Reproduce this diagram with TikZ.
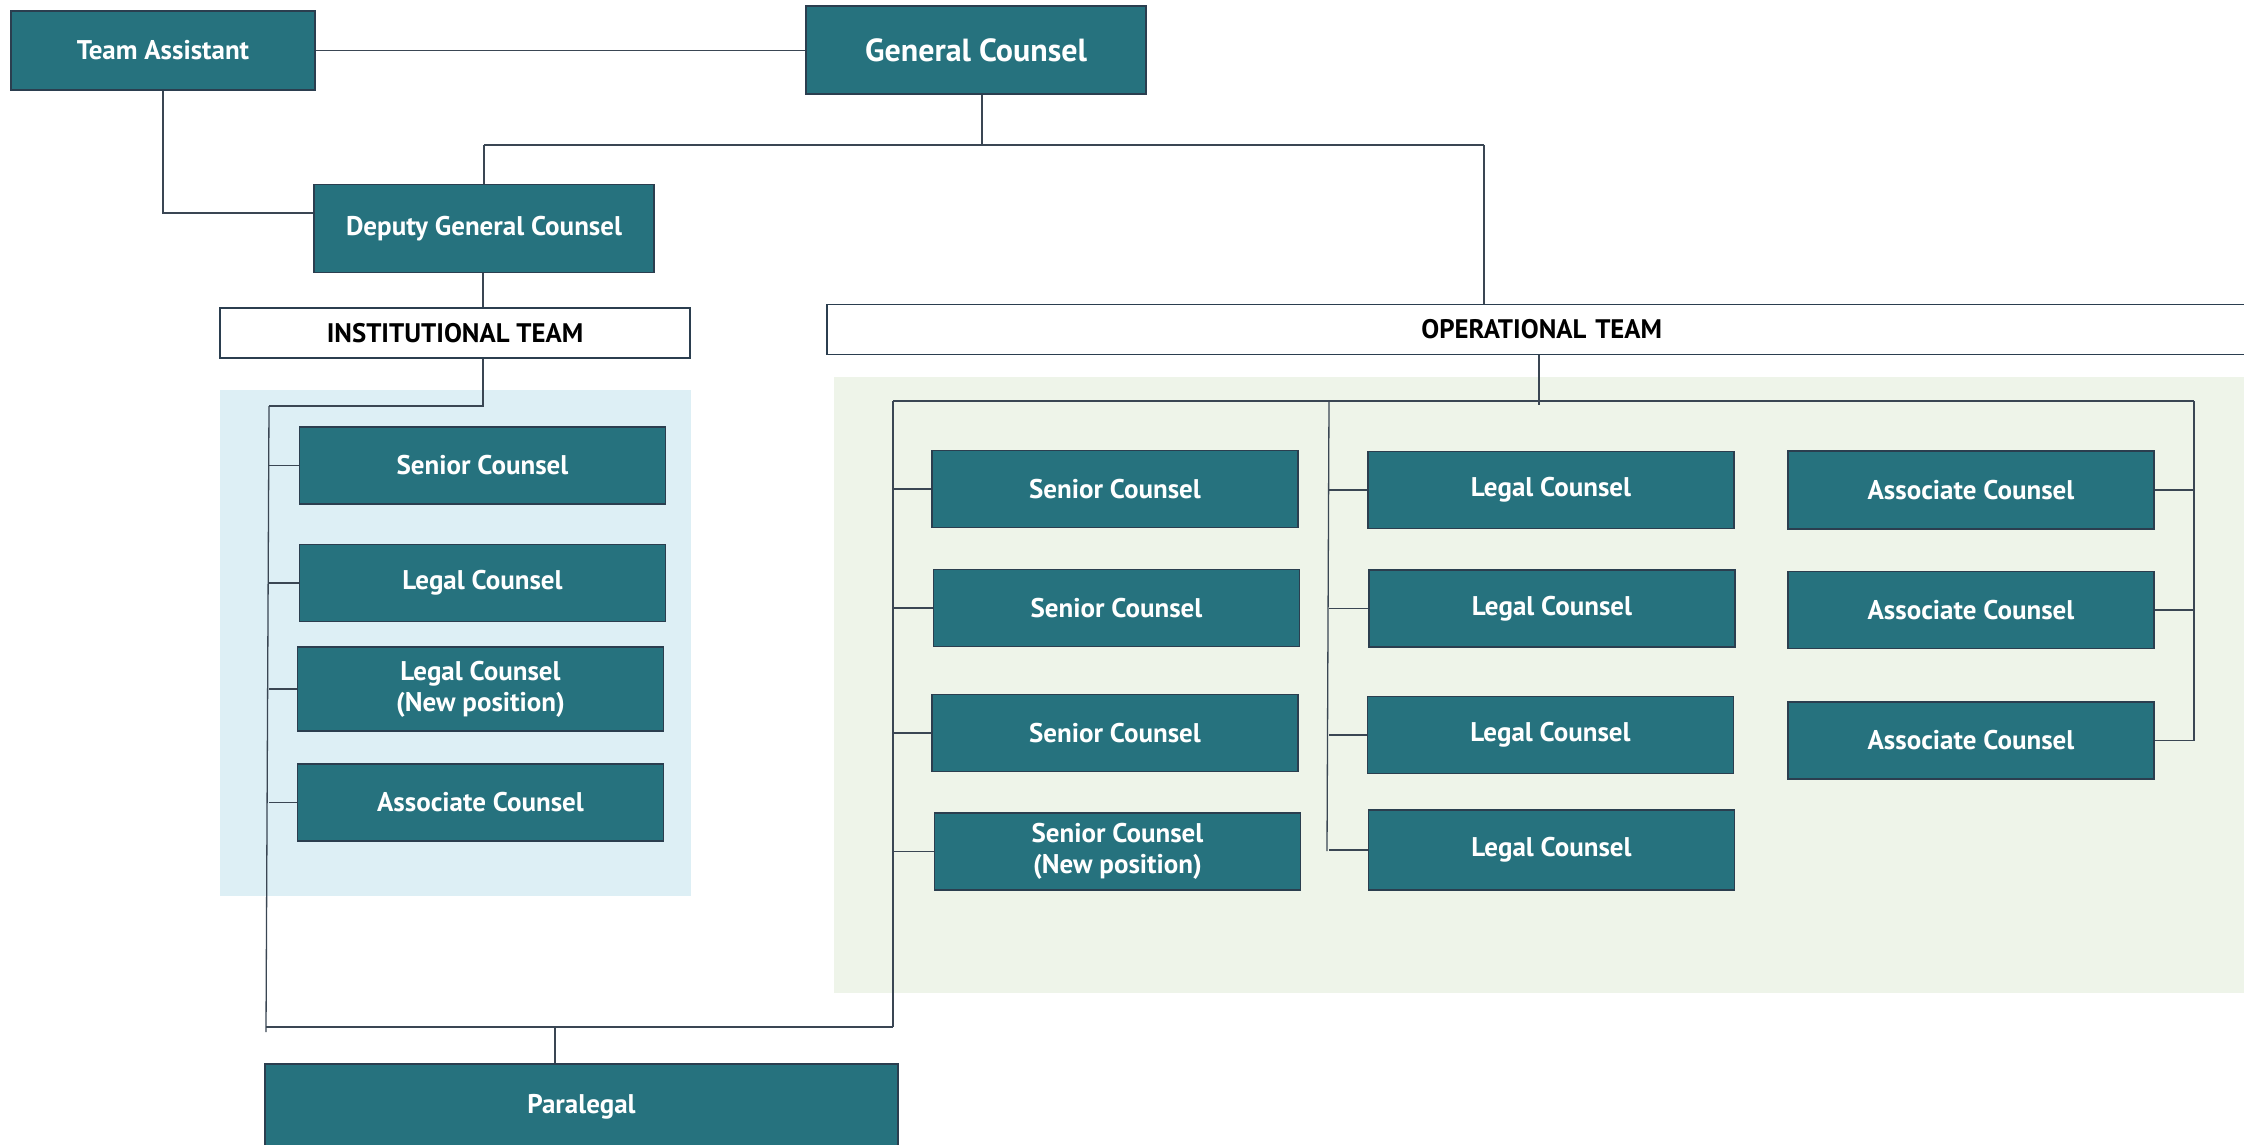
\documentclass[tikz,border=0pt]{standalone}
\usepackage{fontspec}
\setmainfont{PT Sans}
\definecolor{tealbox}{HTML}{26727E}
\definecolor{bord}{HTML}{2B3E4F}
\definecolor{ln}{HTML}{3A4653}
\definecolor{bluebg}{HTML}{DDEFF5}
\definecolor{greenbg}{HTML}{EEF4E9}
\begin{document}
\begin{tikzpicture}[x=1pt,y=-1pt,
  box/.style={draw=bord, line width=1.5pt, fill=tealbox, text=white,
    font=\bfseries\fontsize{27}{31}\selectfont, align=center, inner sep=0pt,
    minimum width=366pt, minimum height=77pt},
  hdr/.style={draw=bord, line width=1.5pt, fill=white, text=black,
    font=\bfseries\fontsize{26.8}{30}\selectfont, inner sep=0pt, minimum height=50pt},
  conn/.style={draw=ln, line width=1.3pt}]
\path[use as bounding box] (0,0) rectangle (2244,1145);
\clip (0,0) rectangle (2244,1145);
\fill[white] (0,0) rectangle (2244,1145);
% backgrounds
\fill[bluebg] (220,390) rectangle (691,896);
\fill[greenbg] (834,377) rectangle (2260,993);

% top nodes
\node[box, minimum width=304pt, minimum height=79pt] (TA) at (163,50.5) {Team Assistant};
\node[box, minimum width=340pt, minimum height=88pt, font=\bfseries\fontsize{32}{36}\selectfont] (GC) at (976,50) {General Counsel};
\node[box, minimum width=340pt, minimum height=88pt] (DGC) at (484,228.5) {Deputy General Counsel};
\node[hdr, minimum width=470pt] (IT) at (455,333) {INSTITUTIONAL TEAM};
\node[hdr, minimum width=1430pt, anchor=west, text width=1424pt, align=left] (OT) at (826,329.5) {\hspace*{712pt}\llap{\makebox[0pt][c]{OPERATIONAL TEAM}}};

% institutional team
\node[box] (iSC) at (482.5,465.5) {Senior Counsel};
\node[box] (iLC) at (482.5,583) {Legal Counsel};
\node[box, minimum height=84pt] (iLCN) at (480.5,689) {Legal Counsel\\(New position)};
\node[box, minimum height=77pt] (iAC) at (480.5,802.5) {Associate Counsel};

% operational team, column 1
\node[box] (oSC1) at (1115,489) {Senior Counsel};
\node[box] (oSC2) at (1116.5,608) {Senior Counsel};
\node[box] (oSC3) at (1115,733) {Senior Counsel};
\node[box] (oSCN) at (1117.5,851.5) {Senior Counsel\\(New position)};
% column 2
\node[box] (oLC1) at (1551,490) {Legal Counsel};
\node[box] (oLC2) at (1552,608.5) {Legal Counsel};
\node[box] (oLC3) at (1550.5,735) {Legal Counsel};
\node[box, minimum height=80pt] (oLC4) at (1551.5,850) {Legal Counsel};
% column 3
\node[box, minimum height=78pt] (oAC1) at (1971,490) {Associate Counsel};
\node[box] (oAC2) at (1971,610) {Associate Counsel};
\node[box] (oAC3) at (1971,740.5) {Associate Counsel};

% paralegal
\node[box, minimum width=633pt, minimum height=86pt] (PL) at (581.5,1107) {Paralegal};

% junction coordinates
\coordinate (gcj) at (982,145);
\coordinate (dgj) at (484,145);
\coordinate (otj) at (1484,145);
\coordinate (taj) at (163,213);
\coordinate (itj) at (483,406);
\coordinate (ibarT) at (269,406);
\coordinate (ibarB) at (266,1032);
\coordinate (ojT) at (1539,401);
\coordinate (obarL) at (893,401);
\coordinate (obarR) at (2194,401);
\coordinate (obarM) at (1329,401);
\coordinate (obarMB) at (1327,851);
\coordinate (botL) at (266,1027);
\coordinate (botR) at (893,1027);
\coordinate (plj) at (555,1027);

% connectors
\draw[conn] (TA.east) -- (TA.east -| GC.west);
\draw[conn] (GC.south -| gcj) -- (gcj);
\draw[conn] (dgj) -- (otj);
\draw[conn] (dgj) -- (dgj |- DGC.north);
\draw[conn] (otj) -- (otj |- OT.north);
\draw[conn] (TA.south) -- (taj) -- (taj -| DGC.west);
\draw[conn] (DGC.south -| itj) -- (IT.north -| itj);
\draw[conn] (IT.south -| itj) -- (itj) -- (ibarT);
\draw[conn] (ibarT) -- (ibarB);
\foreach \n in {iSC,iLC,iLCN,iAC}
  \draw[conn] (\n.west) -- (\n.west -| ibarT);

\draw[conn] (OT.south -| ojT) -- ([yshift=-4pt]ojT);
\draw[conn] (obarL) -- (obarR);
\draw[conn] (obarL) -- (botR);
\draw[conn] (obarM) -- (obarMB);
\draw[conn] (obarR) -- (obarR |- oAC3.east);
\foreach \n in {oSC1,oSC2,oSC3,oSCN}
  \draw[conn] (\n.west) -- (\n.west -| obarL);
\foreach \n in {oLC1,oLC2,oLC3,oLC4}
  \draw[conn] (\n.west) -- (\n.west -| obarM);
\foreach \n in {oAC1,oAC2,oAC3}
  \draw[conn] (\n.east) -- (\n.east -| obarR);

\draw[conn] (botL) -- (botR);
\draw[conn] (plj) -- (plj |- PL.north);
\end{tikzpicture}
\end{document}
